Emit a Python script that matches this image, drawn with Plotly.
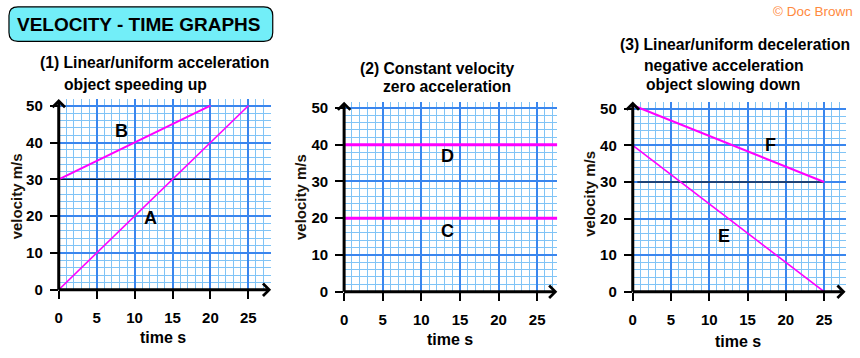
import plotly.graph_objects as go

W, H = 860, 358

# ---------------- data ----------------
time_A = [0, 25];   vel_A = [0, 50]
time_B = [0, 20];   vel_B = [30, 50]
time_C = [0, 27.6]; vel_C = [20, 20]
time_D = [0, 27.6]; vel_D = [40, 40]
time_E = [0, 25];   vel_E = [40, 0]
time_F = [0, 25];   vel_F = [51, 30]
ref1_t = [0, 20];   ref1_v = [30, 30]
ref3_t = [0.6, 25]; ref3_v = [30, 30]

label_names = ["B", "A", "D", "C", "F", "E"]
label_t = [8.3, 12.1, 13.4, 13.4, 18.0, 11.9]
label_v = [43, 19.5, 37, 16.4, 40.2, 15.2]
label_panel = [1, 1, 2, 2, 3, 3]

titles = [
    [("(1) Linear/uniform acceleration", 34, 62), ("object speeding up", 58, 85)],
    [("(2) Constant velocity", 356, 68), ("zero acceleration", 379, 87)],
    [("(3) Linear/uniform deceleration", 617, 44), ("negative acceleration", 641, 65),
     ("object slowing down", 643, 85)],
]

panels = [
    dict(x0=55.0, ppx=7.62, y0=296.0, ppy=3.786, xmax=28.0, ymax=51.8),
    dict(x0=341.7, ppx=7.76, y0=298.0, ppy=3.78, xmax=27.6, ymax=51.7),
    dict(x0=631.7, ppx=7.69, y0=298.0, ppy=3.76, xmax=27.8, ymax=52.0),
]

FONT = "Arial, 'Liberation Sans', sans-serif"
MAG = "#ff00ff"
MINOR = "#80c4f6"
MAJOR = "#3a86ee"

fig = go.Figure()

def px2paper(x, y):
    return x / W, 1 - y / H

layout = dict(
    width=W, height=H, margin=dict(l=0, r=0, t=0, b=0),
    paper_bgcolor="white", plot_bgcolor="white", showlegend=False,
    font=dict(family=FONT, color="black"),
)

annotations = []
shapes = []

for i, p in enumerate(panels, start=1):
    xs = "" if i == 1 else str(i)
    xd = [p["x0"] / W, (p["x0"] + p["xmax"] * p["ppx"]) / W]
    yd = [1 - p["y0"] / H, 1 - (p["y0"] - p["ymax"] * p["ppy"]) / H]
    layout["xaxis" + xs] = dict(
        domain=xd, range=[0, p["xmax"]], anchor="y" + xs,
        tickmode="linear", tick0=0, dtick=5,
        showgrid=True, gridcolor=MAJOR, gridwidth=1.6,
        minor=dict(dtick=1, tick0=0, showgrid=True, gridcolor=MINOR, gridwidth=1),
        ticks="outside", ticklen=8, tickwidth=2, tickcolor="black",
        ticklabelstandoff=6,
        tickfont=dict(size=15, weight="bold", color="black", family=FONT),
        zeroline=False, showline=False, fixedrange=True,
    )
    layout["yaxis" + xs] = dict(
        domain=yd, range=[0, p["ymax"]], anchor="x" + xs,
        tickmode="linear", tick0=0, dtick=10,
        showgrid=True, gridcolor=MAJOR, gridwidth=1.6,
        minor=dict(dtick=2, tick0=0, showgrid=True, gridcolor=MINOR, gridwidth=1),
        ticks="outside", ticklen=8, tickwidth=2, tickcolor="black",
        ticklabelstandoff=4,
        tickfont=dict(size=15, weight="bold", color="black", family=FONT),
        zeroline=False, showline=False, fixedrange=True,
    )
    # axes drawn as arrows
    annotations.append(dict(
        x=p["xmax"], y=0, ax=-0.2, ay=0, xref="x" + xs, yref="y" + xs,
        axref="x" + xs, ayref="y" + xs, text="", showarrow=True,
        arrowhead=4, arrowsize=0.8, arrowwidth=3, arrowcolor="black", standoff=0))
    annotations.append(dict(
        x=0, y=p["ymax"], ax=0, ay=-0.4, xref="x" + xs, yref="y" + xs,
        axref="x" + xs, ayref="y" + xs, text="", showarrow=True,
        arrowhead=4, arrowsize=0.8, arrowwidth=3, arrowcolor="black", standoff=0))
    vx = [12, 298, 588][i - 1]
    vy = [200, 201, 197][i - 1]
    tx = [160, 448, 737][i - 1]
    ty = [345, 347, 349][i - 1]
    a, b = px2paper(vx, vy)
    annotations.append(dict(x=a, y=b, xref="paper", yref="paper", text="<b>velocity m/s</b>",
                            textangle=-90, showarrow=False, xanchor="center", yanchor="middle",
                            font=dict(size=15, color="#1a1208", family=FONT)))
    a, b = px2paper(tx, ty)
    annotations.append(dict(x=a, y=b, xref="paper", yref="paper", text="<b>time s</b>",
                            showarrow=False, xanchor="center", yanchor="middle",
                            font=dict(size=16, color="black", family=FONT)))
    for txt, lx, ly in titles[i - 1]:
        a, b = px2paper(lx, ly)
        annotations.append(dict(x=a, y=b, xref="paper", yref="paper", text="<b>" + txt + "</b>",
                                showarrow=False, xanchor="left", yanchor="middle",
                                font=dict(size=15.7, color="black", family=FONT)))

def add_line(t, v, panel, color, width):
    xs = "" if panel == 1 else str(panel)
    fig.add_trace(go.Scatter(x=t, y=v, mode="lines", xaxis="x" + xs, yaxis="y" + xs,
                             line=dict(color=color, width=width), hoverinfo="skip"))

add_line(ref1_t, ref1_v, 1, "black", 1)
add_line(ref3_t, ref3_v, 3, "black", 1)
add_line(time_A, vel_A, 1, MAG, 1.6)
add_line(time_B, vel_B, 1, MAG, 2)
add_line(time_C, vel_C, 2, MAG, 3)
add_line(time_D, vel_D, 2, MAG, 3)
add_line(time_E, vel_E, 3, MAG, 1.6)
add_line(time_F, vel_F, 3, MAG, 2)

for name, t, v, pn in zip(label_names, label_t, label_v, label_panel):
    xs = "" if pn == 1 else str(pn)
    annotations.append(dict(x=t, y=v, xref="x" + xs, yref="y" + xs, text="<b>" + name + "</b>",
                            showarrow=False, font=dict(size=18, color="black", family=FONT)))

# header box with rounded corners
bx0, by0, bx1, by1, r = 5, 5, 270, 40.5, 9
def P(x, y):
    a, b = px2paper(x, y)
    return f"{a:.5f},{b:.5f}"
path = (f"M {P(bx0 + r, by0)} L {P(bx1 - r, by0)} Q {P(bx1, by0)} {P(bx1, by0 + r)} "
        f"L {P(bx1, by1 - r)} Q {P(bx1, by1)} {P(bx1 - r, by1)} "
        f"L {P(bx0 + r, by1)} Q {P(bx0, by1)} {P(bx0, by1 - r)} "
        f"L {P(bx0, by0 + r)} Q {P(bx0, by0)} {P(bx0 + r, by0)} Z")
shapes.append(dict(type="path", path=path, xref="paper", yref="paper",
                   fillcolor="#72eef8", line=dict(color="black", width=1.2), layer="above"))

a, b = px2paper(136, 23)
annotations.append(dict(x=a, y=b, xref="paper", yref="paper", text="<b>VELOCITY - TIME GRAPHS</b>",
                        showarrow=False, xanchor="center", yanchor="middle",
                        font=dict(size=19, color="black", family=FONT)))
a, b = px2paper(855, 10)
annotations.append(dict(x=a, y=b, xref="paper", yref="paper", text="© Doc Brown",
                        showarrow=False, xanchor="right", yanchor="middle",
                        font=dict(size=13.5, color="#ff8a40", family=FONT)))

layout["annotations"] = annotations
layout["shapes"] = shapes
fig.update_layout(**layout)
fig.write_html("out.html", config={"displayModeBar": False},
               post_script="document.body.style.margin='0';document.body.style.padding='0';")
